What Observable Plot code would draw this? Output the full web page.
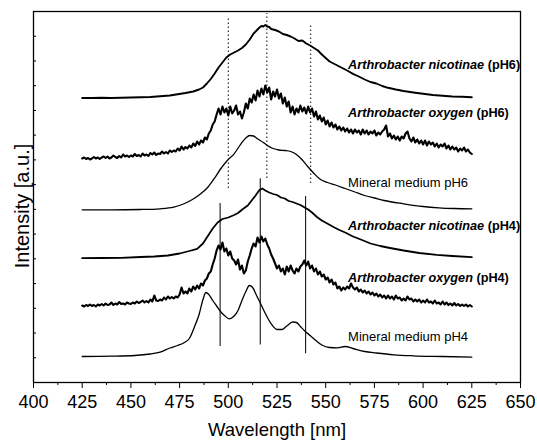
<!DOCTYPE html>
<html><head><meta charset="utf-8">
<script src="https://cdn.jsdelivr.net/npm/d3@7"></script>
<script src="https://cdn.jsdelivr.net/npm/@observablehq/plot@0.6"></script>
<style>body{margin:0;background:#fff}</style>
</head><body><div id="chart"></div>
<script>
// Wavelength ticks
const xMajorTicks = [400, 425, 450, 475, 500, 525, 550, 575, 600, 625, 650];
const xMinorTicks = [412.5, 437.5, 462.5, 487.5, 512.5, 537.5, 562.5, 587.5, 612.5, 637.5];

// Arthrobacter nicotinae (pH6)
const nicoPH6_x = [425,430,435,440,445,450,455,460,465,470,474,478,482,485,487,489,491,493,495,497,499,501,503,505,507,509,511,513,515,516,517,518,519,520,521,522,524,526,528,530,532,534,536,538,540,542,544,546,548,550,552,555,558,561,564,567,570,573,576,579,582,586,590,595,600,605,610,615,620,625];
const nicoPH6_y = [284.5,284.5,284.7,284.5,284.8,285,285.2,285.5,286.2,287,288.2,289.5,291,293,295,299,303.5,309,315,320,325,328,330,332,334.5,338,343,349,353,355,356.5,356,357.5,356,355.5,353.5,352.5,351,348.5,347.5,346,344,341.5,342,339,337,334.5,332,328,324.5,321,318,315,312,308.7,306,303,300.5,299,296.5,294.7,293,291.5,290,288.7,287.5,286.7,286,285.7,285.2];

// Arthrobacter oxygen (pH6), 1 nm steps from 425 to 625
const oxyPH6_y = [224,225,223.5,224.5,223,224,225.5,224,225,223.5,225,226,224.5,226,224,225,227,225.5,224.5,226.5,225,228,226,227,225.5,227,226,228.5,226.5,227.5,226,229,227,228,226.5,229.5,228,230,227.5,229,228.5,231,229,230.5,229,232,230.5,232,231,234,232,236,233,235.5,234,237,235,239,236.5,241,238,242,240,245,243,249,252,258,261,268,274,268,276,270,274,267,276,269,272,277,268,271,264,270,279,274,284,280,288,282,292,286,294,288,297,290,295,283,291,286,293,284,289,279,285,276,281,270,276,268,274,270,277,271,275,269,276,270,274,266,271,263,267,261,265,258,262,256,260,255,258,253,256,252,255,251,254,250,253,249,253,250,252,248,253,249,252,248,251,249,252,247,250,248,251,253,257,246,249,244,247,243,246,242,246,244,249,251,244,241,245,240,243,239,242,238,242,237,241,238,240,236,239,235,238,236,239,234,237,233,236,233,235,231,234,232,235,231,233,230,228.5];

// Mineral medium pH6
const minPH6_x = [425,440,455,465,472,477,482,486,489.5,493,496,499.5,503,506.5,509,511,513,515,518,520,523,526,529,532,535,538,541,544,547,551,555,560,565,570,575,580,590,600,608,616,625];
const minPH6_y = [172.7,172.7,173,173.7,175.3,178.5,183.5,189,195.3,204.5,213.5,222,228.7,238.7,244.5,247,246.5,243.7,240,237,234,232.5,232,231,228,222.5,215.5,209,203.5,200,197.5,194,190.5,187,184.5,182,178.7,176,174.7,174,173.7];

// Arthrobacter nicotinae (pH4)
const nicoPH4_x = [425,435,445,455,462,469,475,480,484,487,489.5,492,494.5,497,500,503,505,507.5,510,512,514,516,517.5,519,521,523,525,527,529,531,533,535,537,539,541,543,545.5,548,551,554,557,560,564,568,573,578,583,590,598,607,615,625];
const nicoPH4_y = [124.3,124.5,124.7,125.5,126,127,129,131.5,133.7,139,146.5,154,160,163.5,165,167.5,169.5,173.5,177,182,187,192.5,194,192,190,188.5,187.5,185,184,181.5,180.5,179,177.5,175.3,173,170,165.5,162,158.7,155.5,152.5,150,146,143,139,136.5,134.5,132,129.5,127.7,126.5,125.3];

// Arthrobacter oxygen (pH4), 1 nm steps from 425 to 625
const oxyPH4_y = [77,76,77.5,76.5,78,76.5,77.5,76,78,77,78.5,77,79,77.5,78,80,77.5,79,78,80.5,78.5,79,78,80,79,78.5,80,79,81,79.5,80.5,82,80,81.5,80,83,81,87,82,81.5,83,82,85,83,86,84,85.5,84,86,85,88,95,89,91,89,94,91,96,93,97,94,99,97,102,104,109,111,118,124,132,137,133,140,131,134,127,131,124,122,118,123,113,117,109,112,121,127,134,139,136,145,140,146,141,144,138,134,128,124,119,114,117,111,114,108,116,111,117,112,109,114,111,116,118,122,117,121,114,117,111,114,108,111,106,108,103,105,100,103,98,100,94,96,92,95,93,96,94,99,95,93,95,91,93,90,92,89,91,88,90,87,89,86,88,85,87,84,87,84,86,83,87,84,85,82,84,82,86,83,84,81,83,81,83,80,82,80,83,80,81,79,82,79,80,78,81,78,80,77.5,79,77,79.5,77,78.5,76.5,78,76.5,78,76,77.5,76];

// Mineral medium pH4
const minPH4_x = [425,440,452,460,465,470,474,477.5,480,482.5,485,487,488.5,490,492,494,496,498,500.5,503,505,507,509,510.8,512.5,514.5,516.8,519,522,525,527.5,530,533,535,537,539,542,545,548,552,556,560,564,570,576,585,595,610,625];
const minPH4_y = [26,26.3,27,28.5,30.3,34.5,37,40,44,55,68,83,90,88,82,76.5,71,67,63.7,66.5,72,82,91,97,95,87,78,69,58.7,53,53,56.5,60.5,60,56,52,47,42,37.5,35,34.7,36,34,31,29.5,27.7,26.7,26,25.3];

// Band markers
const dottedX = [500, 519.8, 542.3];
const dottedTop = [364, 369, 357];
const dottedBottom = [194, 204, 199];
const solidX = [495.8, 516.4, 539.7];
const solidTop = [179, 203.7, 186];
const solidBottom = [36, 37.5, 28.7];

// Series labels
const labelSpecies = ["Arthrobacter nicotinae", "Arthrobacter oxygen", "", "Arthrobacter nicotinae", "Arthrobacter oxygen", ""];
const labelSuffix = ["(pH6)", "(pH6)", "Mineral medium pH6", "(pH4)", "(pH4)", "Mineral medium pH4"];
const labelY = [318, 270, 200, 157, 105, 46];
const labelX = 561.5;

const grid = d3.range(425, 626, 1);
const pts = (xs, ys) => xs.map((x, i) => ({x, y: ys[i]}));
const yTicks = d3.range(0, 16).map(i => i * 371 / 15);

const labels = labelSuffix.map((s, i) => ({
  t: labelSpecies[i] ? labelSpecies[i] + " " + s : s, y: labelY[i], i
}));

const svg = Plot.plot({
  width: 537, height: 441,
  marginLeft: 33, marginRight: 17, marginTop: 11, marginBottom: 59,
  style: {fontFamily: "'Liberation Sans', Arial, sans-serif", background: "#fff", color: "#000"},
  x: {domain: [400, 650], axis: null},
  y: {domain: [0, 371], axis: null},
  marks: [
    Plot.axisX(xMinorTicks, {anchor: "bottom", tickSize: 3, tickFormat: () => "", label: null, stroke: "#000"}),
    Plot.axisX(xMajorTicks, {anchor: "bottom", tickSize: 6, tickPadding: 7, fontSize: 18, label: null, stroke: "#000", fill: "#000"}),
    Plot.axisY(yTicks, {anchor: "left", tickSize: -3, tickFormat: () => "", label: null, stroke: "#000"}),
    Plot.ruleX(dottedX.map((x, i) => ({x, y1: dottedBottom[i], y2: dottedTop[i]})), {x: "x", y1: "y1", y2: "y2", stroke: "#000", strokeWidth: 1, strokeDasharray: "1.5,2.5"}),
    Plot.ruleX(solidX.map((x, i) => ({x, y1: solidBottom[i], y2: solidTop[i]})), {x: "x", y1: "y1", y2: "y2", stroke: "#000", strokeWidth: 1}),
    Plot.line(pts(nicoPH6_x, nicoPH6_y), {x: "x", y: "y", stroke: "#000", strokeWidth: 1.9}),
    Plot.line(pts(grid, oxyPH6_y), {x: "x", y: "y", stroke: "#000", strokeWidth: 2.1}),
    Plot.line(pts(minPH6_x, minPH6_y), {x: "x", y: "y", stroke: "#000", strokeWidth: 1.3, curve: "monotone-x"}),
    Plot.line(pts(nicoPH4_x, nicoPH4_y), {x: "x", y: "y", stroke: "#000", strokeWidth: 1.8}),
    Plot.line(pts(grid, oxyPH4_y), {x: "x", y: "y", stroke: "#000", strokeWidth: 2.1}),
    Plot.line(pts(minPH4_x, minPH4_y), {x: "x", y: "y", stroke: "#000", strokeWidth: 1.3, curve: "monotone-x"}),
    Plot.text(labels, {x: () => labelX, y: "y", text: "t", textAnchor: "start", lineAnchor: "middle", fontSize: 12.7, fill: "#000"}),
    Plot.text([{t: "Intensity [a.u.]", y: 176.5}], {text: "t", y: "y", frameAnchor: "left", dx: -11, rotate: -90, fontSize: 20, textAnchor: "middle", lineAnchor: "middle", fill: "#000"}),
    Plot.text([{t: "Wavelength [nm]"}], {text: "t", frameAnchor: "bottom", dy: 48, fontSize: 18.5, lineAnchor: "middle", fill: "#000"}),
    Plot.frame({stroke: "#000", strokeWidth: 1.3})
  ]
});

const ns = "http://www.w3.org/2000/svg";
svg.querySelectorAll("text").forEach((t) => {
  const i = labels.findIndex(l => l.t === t.textContent);
  if (i < 0) return;
  t.textContent = "";
  if (labelSpecies[i]) {
    const a = document.createElementNS(ns, "tspan");
    a.setAttribute("font-style", "italic");
    a.setAttribute("font-weight", "bold");
    a.textContent = labelSpecies[i] + " ";
    const b = document.createElementNS(ns, "tspan");
    b.setAttribute("font-weight", "bold");
    b.textContent = labelSuffix[i];
    t.appendChild(a); t.appendChild(b);
  } else {
    const c = document.createElementNS(ns, "tspan");
    c.setAttribute("font-size", "13");
    c.textContent = labelSuffix[i];
    t.appendChild(c);
  }
});
document.getElementById("chart").appendChild(svg);
</script>
</body></html>
